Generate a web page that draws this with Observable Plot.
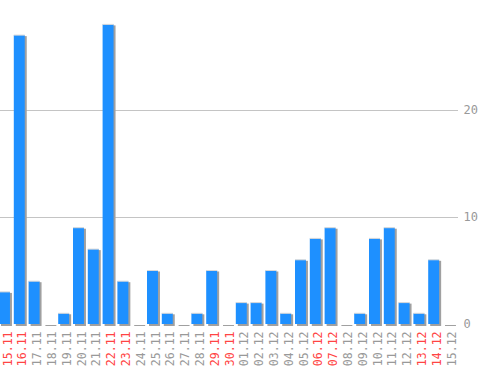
<!DOCTYPE html>
<html>
<head>
<meta charset="utf-8">
<script src="https://cdn.jsdelivr.net/npm/d3@7"></script>
<script src="https://cdn.jsdelivr.net/npm/@observablehq/plot@0.6"></script>
<style>
  html, body { margin: 0; padding: 0; background: #fff; }
  #chart svg { display: block; }
</style>
</head>
<body>
<div id="chart"></div>
<script>
const days = ["15.11","16.11","17.11","18.11","19.11","20.11","21.11","22.11","23.11","24.11","25.11","26.11","27.11","28.11","29.11","30.11","01.12","02.12","03.12","04.12","05.12","06.12","07.12","08.12","09.12","10.12","11.12","12.12","13.12","14.12","15.12"];
const counts = [3,27,4,0,1,9,7,28,4,0,5,1,0,1,5,0,2,2,5,1,6,8,9,0,1,8,9,2,1,6,0];
const weekendDays = ["15.11","16.11","22.11","23.11","29.11","30.11","06.12","07.12","13.12","14.12"];
const yTicks = [0, 10, 20];

const data = days.map((d, i) => ({day: d, count: counts[i]}));
const font = "'DejaVu Sans Mono', monospace";
const labelColor = d => weekendDays.includes(d) ? "#ff4444" : "#999";

const chart = Plot.plot({
  width: 498,
  height: 370,
  marginLeft: 0,
  marginRight: 40,
  marginTop: 0,
  marginBottom: 46,
  style: {fontFamily: font, fontSize: "11.5px", fontWeight: "normal", background: "#fff"},
  x: {type: "band", domain: days, range: [-4.85, 457.8], padding: 0.26, round: false},
  y: {domain: [0, 20], range: [324, 110]},
  marks: [
    Plot.gridY(yTicks.filter(t => t > 0), {stroke: "#c4c4c4", strokeOpacity: 1}),
    Plot.rectY(data, {x: "day", y1: 0, y2: "count", fill: "#a0a0a0", dx: 2, dy: 2, insetTop: -1}),
    Plot.rectY(data, {x: "day", y1: 0, y2: "count", fill: "#1e90ff"}),
    Plot.tickY(data.filter(d => d.count > 0), {x: "day", y: "count", stroke: "#d8d8d8", dy: -0.5, strokeWidth: 1}),
    Plot.axisY(yTicks, {anchor: "right", tickSize: 0, tickPadding: 5, fill: "#999", stroke: "#999", strokeWidth: 0.7, label: null, textAnchor: "start", fontSize: 12}),
    Plot.axisX(days, {
      anchor: "bottom", tickSize: 0, tickPadding: 7, tickRotate: -90, label: null, dx: 3,
      fill: labelColor, stroke: labelColor, strokeWidth: 0.5
    })
  ]
});
document.getElementById("chart").appendChild(chart);
</script>
</body>
</html>
